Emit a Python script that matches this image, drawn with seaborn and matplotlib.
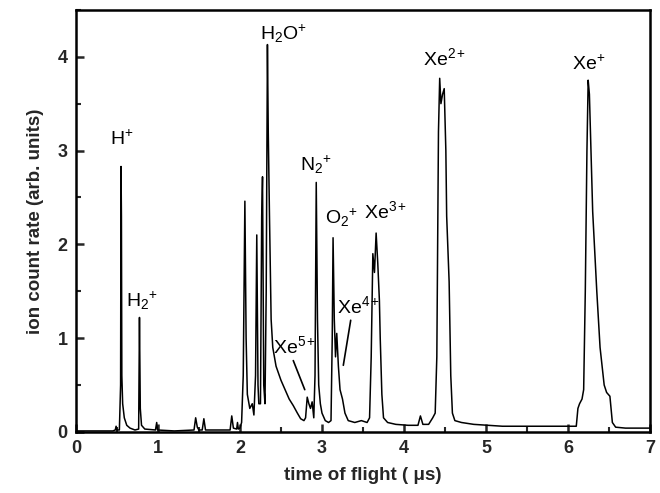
import numpy as np
import pandas as pd
import seaborn as sns
import matplotlib.pyplot as plt
from matplotlib.ticker import MultipleLocator

# time of flight (us) and ion count rate
tof = [0.00, 0.45, 0.48, 0.49, 0.50, 0.53, 0.545, 0.55, 0.555, 0.56, 0.57, 0.59, 0.62, 0.66, 0.72,
       0.765, 0.775, 0.785, 0.80, 0.84, 0.97, 0.985, 0.995, 1.20, 1.44, 1.46, 1.48, 1.50, 1.54, 1.56,
       1.58, 1.88, 1.90, 1.92, 1.96, 1.97, 1.98, 2.00, 2.02, 2.04, 2.06, 2.075, 2.09, 2.12, 2.15,
       2.17, 2.19, 2.205, 2.22, 2.23, 2.25, 2.265, 2.275, 2.29, 2.305, 2.32, 2.335, 2.345, 2.36, 2.38,
       2.40, 2.44, 2.50, 2.55, 2.60, 2.65, 2.70, 2.74, 2.78, 2.80, 2.82, 2.84, 2.86, 2.88, 2.90,
       2.915, 2.93, 2.945, 2.96, 2.98, 3.00, 3.04, 3.08, 3.11, 3.125, 3.135, 3.15, 3.165, 3.18, 3.20,
       3.22, 3.25, 3.28, 3.32, 3.40, 3.48, 3.55, 3.58, 3.60, 3.62, 3.64, 3.66, 3.68, 3.70, 3.71,
       3.73, 3.75, 3.80, 3.90, 4.05, 4.17, 4.20, 4.23, 4.30, 4.35, 4.38, 4.40, 4.42, 4.435, 4.45,
       4.47, 4.49, 4.51, 4.52, 4.55, 4.57, 4.59, 4.62, 4.70, 4.85, 5.20, 5.80, 6.10, 6.12, 6.14,
       6.17, 6.19, 6.21, 6.23, 6.245, 6.26, 6.30, 6.35, 6.39, 6.44, 6.47, 6.51, 6.54, 6.58, 6.70, 7.00]
rate = [0.01, 0.01, 0.02, 0.06, 0.02, 0.02, 0.50, 2.83, 2.30, 0.60, 0.30, 0.15, 0.07, 0.04, 0.02,
        0.03, 1.22, 0.25, 0.07, 0.03, 0.02, 0.10, 0.02, 0.01, 0.02, 0.15, 0.05, 0.02, 0.02, 0.14,
        0.02, 0.02, 0.17, 0.04, 0.03, 0.10, 0.03, 0.04, 0.10, 0.60, 2.46, 1.00, 0.40, 0.25, 0.30,
        0.18, 0.60, 2.10, 0.50, 0.30, 0.30, 2.30, 2.72, 0.50, 0.30, 1.50, 4.13, 3.20, 2.30, 1.20,
        0.90, 0.70, 0.55, 0.45, 0.35, 0.28, 0.20, 0.14, 0.12, 0.15, 0.37, 0.30, 0.25, 0.32, 0.15,
        0.60, 2.66, 1.20, 0.50, 0.30, 0.20, 0.12, 0.10, 0.12, 1.00, 2.07, 1.20, 0.80, 1.05, 0.70,
        0.45, 0.35, 0.20, 0.12, 0.10, 0.12, 0.10, 0.15, 0.80, 1.90, 1.70, 2.12, 1.80, 1.40, 1.00,
        0.40, 0.15, 0.10, 0.08, 0.07, 0.07, 0.17, 0.08, 0.08, 0.15, 0.20, 0.80, 3.20, 3.77, 3.50,
        3.60, 3.66, 3.00, 2.30, 1.60, 0.60, 0.20, 0.12, 0.10, 0.08, 0.06, 0.06, 0.06, 0.25, 0.30,
        0.35, 0.45, 1.50, 3.00, 3.75, 3.60, 2.35, 1.50, 0.90, 0.50, 0.42, 0.38, 0.10, 0.05, 0.04, 0.04]

# peak labels
labels = ['H$^{+}$', 'H$_2$$^{+}$', 'H$_2$O$^{+}$', 'N$_2$$^{+}$', 'O$_2$$^{+}$', 'Xe$^{3+}$',
          'Xe$^{2+}$', 'Xe$^{+}$', 'Xe$^{5+}$', 'Xe$^{4+}$']
label_x = [0.56, 0.81, 2.53, 2.93, 3.24, 3.77, 4.49, 6.25, 2.66, 3.45]
label_y = [3.12, 1.40, 4.24, 2.85, 2.28, 2.35, 3.98, 3.92, 0.91, 1.34]

df = pd.DataFrame({'tof': tof, 'rate': rate})

sns.set_theme(style='ticks')
plt.rcParams['font.family'] = ['Liberation Sans', 'DejaVu Sans']
plt.rcParams['mathtext.fontset'] = 'custom'
plt.rcParams['mathtext.rm'] = 'Liberation Sans'
plt.rcParams['mathtext.it'] = 'Liberation Sans'
plt.rcParams['mathtext.bf'] = 'Liberation Sans:bold'

fig = plt.figure(figsize=(6.6, 4.93), dpi=100)
ax = fig.add_axes([0.115, 0.124, 0.87, 0.856])
sns.lineplot(data=df, x='tof', y='rate', ax=ax, color='black', lw=1.1,
             estimator=None, sort=False)

for txt, x, y in zip(labels, label_x, label_y):
    ax.text(x, y, txt, ha='center', va='center', fontsize=14, color='black')

# pointer lines for the small Xe peaks
ax.plot([2.65, 2.79], [0.76, 0.45], color='black', lw=1.2)
ax.plot([3.35, 3.26], [1.19, 0.71], color='black', lw=1.2)

ax.set_xlim(0, 7)
ax.set_ylim(0, 4.5)
ax.xaxis.set_major_locator(MultipleLocator(1))
ax.xaxis.set_minor_locator(MultipleLocator(0.5))
ax.yaxis.set_major_locator(MultipleLocator(1))
ax.yaxis.set_minor_locator(MultipleLocator(0.5))
ax.tick_params(which='major', direction='in', length=6, width=1.8, labelsize=13, pad=6,
               top=False, right=False)
ax.tick_params(which='minor', direction='in', length=3.5, width=1.5, top=False, right=False)
for lab in ax.get_xticklabels() + ax.get_yticklabels():
    lab.set_fontweight('bold')
for sp in ax.spines.values():
    sp.set_linewidth(1.8)
    sp.set_color('black')

ax.set_xlabel('time of flight ( \u03bcs)', fontsize=13.5, fontweight='bold', labelpad=7)
ax.set_ylabel('ion count rate (arb. units)', fontsize=13.5, fontweight='bold', labelpad=10)

fig.savefig('out.png', dpi=100)
